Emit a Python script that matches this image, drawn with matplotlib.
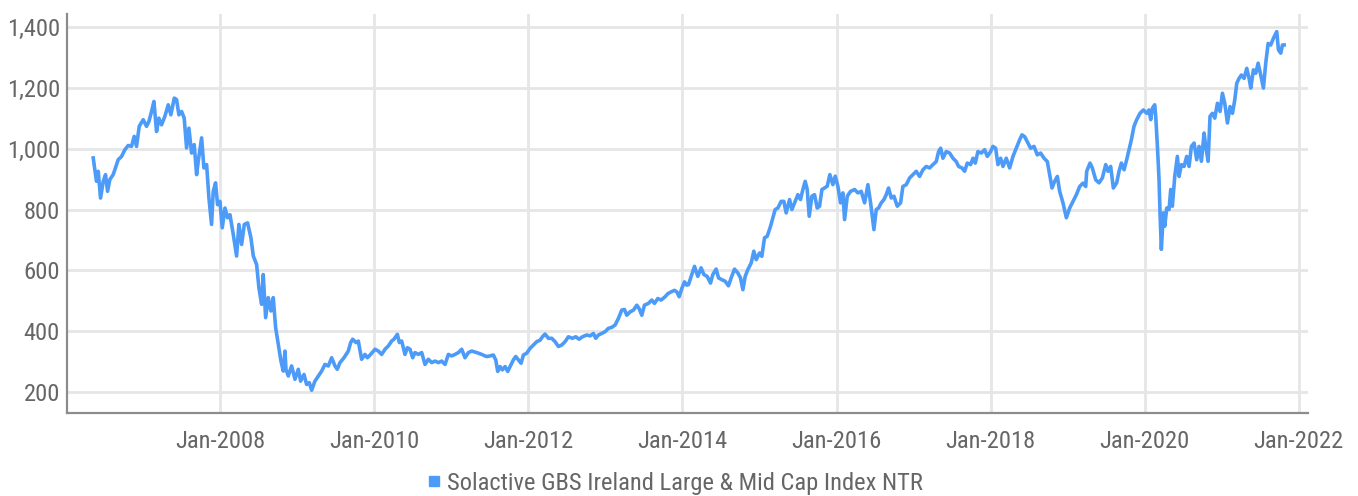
import matplotlib
matplotlib.use("Agg")
import matplotlib.pyplot as plt
from matplotlib.lines import Line2D
from matplotlib import font_manager

# Solactive GBS Ireland Large & Mid Cap Index NTR, sampled as decimal years
years = [
    2006.351, 2006.372, 2006.394, 2006.416, 2006.446, 2006.481, 2006.511, 2006.537, 2006.567, 2006.610,
    2006.654, 2006.675, 2006.719, 2006.762, 2006.805, 2006.848, 2006.883, 2006.913, 2006.948, 2007.000,
    2007.043, 2007.074, 2007.108, 2007.139, 2007.173, 2007.203, 2007.238, 2007.281, 2007.325, 2007.359,
    2007.403, 2007.433, 2007.463, 2007.498, 2007.532, 2007.563, 2007.593, 2007.628, 2007.662, 2007.693,
    2007.714, 2007.758, 2007.788, 2007.823, 2007.853, 2007.887, 2007.909, 2007.939, 2007.965, 2007.996,
    2008.026, 2008.061, 2008.095, 2008.126, 2008.169, 2008.212, 2008.242, 2008.277, 2008.312, 2008.355,
    2008.398, 2008.429, 2008.472, 2008.502, 2008.537, 2008.558, 2008.589, 2008.623, 2008.658, 2008.688,
    2008.719, 2008.753, 2008.788, 2008.818, 2008.840,
    2008.853, 2008.883, 2008.926, 2008.970, 2009.013, 2009.043, 2009.087, 2009.121, 2009.156, 2009.186,
    2009.229, 2009.273, 2009.316, 2009.359, 2009.403, 2009.446, 2009.489, 2009.519, 2009.554, 2009.606,
    2009.662, 2009.693, 2009.719, 2009.762, 2009.792, 2009.835, 2009.879, 2009.909, 2009.952, 2010.009,
    2010.052, 2010.095, 2010.139, 2010.182, 2010.225, 2010.255, 2010.299, 2010.325, 2010.355, 2010.398,
    2010.429, 2010.463, 2010.498, 2010.528, 2010.571, 2010.615, 2010.658, 2010.701, 2010.745, 2010.788,
    2010.831, 2010.874, 2010.918, 2010.961, 2011.004, 2011.048, 2011.091, 2011.134, 2011.177, 2011.221,
    2011.264, 2011.329, 2011.394, 2011.437,
    2011.459, 2011.502, 2011.545, 2011.576, 2011.602, 2011.632, 2011.662, 2011.697, 2011.732, 2011.762,
    2011.805, 2011.835, 2011.870, 2011.905, 2011.935, 2011.978, 2012.022, 2012.065, 2012.108, 2012.152,
    2012.182, 2012.216, 2012.260, 2012.303, 2012.346, 2012.390, 2012.433, 2012.476, 2012.519, 2012.571,
    2012.615, 2012.658, 2012.701, 2012.758, 2012.801, 2012.844, 2012.874, 2012.909, 2012.952, 2012.996,
    2013.039, 2013.082, 2013.126, 2013.169, 2013.212, 2013.247, 2013.277, 2013.320, 2013.364, 2013.407,
    2013.437, 2013.472, 2013.506, 2013.558, 2013.602, 2013.636, 2013.680, 2013.723, 2013.775, 2013.810,
    2013.853, 2013.896, 2013.926, 2013.957, 2013.991, 2014.026, 2014.056,
    2014.078, 2014.113, 2014.156, 2014.199, 2014.242, 2014.277, 2014.320, 2014.364, 2014.394, 2014.437,
    2014.468, 2014.511, 2014.554, 2014.597, 2014.632, 2014.675, 2014.719, 2014.753, 2014.784, 2014.814,
    2014.848, 2014.892, 2014.926, 2014.957, 2015.000, 2015.030, 2015.065, 2015.100, 2015.143, 2015.173,
    2015.203, 2015.238, 2015.281, 2015.316, 2015.346, 2015.390, 2015.420, 2015.455, 2015.498, 2015.532,
    2015.563, 2015.593, 2015.619, 2015.645, 2015.680, 2015.714, 2015.749, 2015.779, 2015.810, 2015.844,
    2015.879, 2015.913, 2015.952, 2015.983, 2016.017, 2016.052, 2016.082, 2016.104, 2016.139, 2016.182,
    2016.234, 2016.277, 2016.320, 2016.364, 2016.407, 2016.442, 2016.485, 2016.515, 2016.545, 2016.580,
    2016.615, 2016.645,
    2016.675, 2016.710, 2016.745, 2016.788, 2016.831, 2016.861, 2016.905, 2016.948, 2016.991, 2017.035,
    2017.078, 2017.121, 2017.165, 2017.208, 2017.251, 2017.294, 2017.325, 2017.351, 2017.381, 2017.424,
    2017.468, 2017.511, 2017.554, 2017.584, 2017.628, 2017.662, 2017.697, 2017.740, 2017.771, 2017.801,
    2017.835, 2017.879, 2017.922, 2017.957, 2018.000, 2018.030, 2018.065, 2018.095, 2018.130, 2018.160,
    2018.203, 2018.247, 2018.290, 2018.333, 2018.377, 2018.407, 2018.442, 2018.485, 2018.519, 2018.563,
    2018.606, 2018.649, 2018.693, 2018.736, 2018.766, 2018.797, 2018.831, 2018.866, 2018.896, 2018.939,
    2018.983, 2019.026, 2019.069, 2019.113, 2019.156, 2019.199, 2019.234,
    2019.247, 2019.290, 2019.320, 2019.364, 2019.407, 2019.450, 2019.494, 2019.524, 2019.558, 2019.593,
    2019.636, 2019.667, 2019.697, 2019.732, 2019.766, 2019.797, 2019.827, 2019.861, 2019.896, 2019.939,
    2019.983, 2020.026, 2020.056, 2020.078, 2020.100, 2020.130, 2020.143, 2020.165, 2020.186, 2020.199,
    2020.216, 2020.242, 2020.260, 2020.286, 2020.316, 2020.338, 2020.359, 2020.390, 2020.424, 2020.446,
    2020.476, 2020.511, 2020.545, 2020.576, 2020.606, 2020.641, 2020.675, 2020.706, 2020.736, 2020.771,
    2020.792, 2020.823, 2020.848, 2020.879, 2020.909, 2020.944, 2020.978, 2021.009, 2021.039, 2021.074,
    2021.108, 2021.139, 2021.169, 2021.195, 2021.225, 2021.255, 2021.290, 2021.325, 2021.355, 2021.377,
    2021.411, 2021.442, 2021.472, 2021.506, 2021.541, 2021.571, 2021.602, 2021.636, 2021.671, 2021.714,
    2021.736, 2021.766, 2021.788, 2021.810,
]
values = [
    970, 931, 893, 926, 838, 893, 915, 860, 899, 915,
    948, 964, 975, 997, 1011, 1008, 1041, 1008, 1074, 1096,
    1074, 1090, 1123, 1156, 1057, 1101, 1079, 1107, 1145, 1112,
    1167, 1162, 1112, 1123, 1101, 1003, 1068, 986, 1014, 915,
    959, 1036, 937, 948, 838, 751, 860, 888, 816, 827,
    740, 805, 773, 783, 718, 647, 751, 685, 751, 756,
    707, 647, 619, 542, 488, 586, 444, 510, 466, 510,
    411, 356, 301, 268, 334,
    274, 252, 285, 241, 274, 235, 257, 224, 230, 205,
    235, 252, 268, 290, 285, 312, 285, 274, 296, 312,
    334, 362, 373, 362, 367, 307, 323, 312, 323, 340,
    334, 323, 340, 351, 367, 373, 389, 362, 367, 323,
    345, 340, 312, 329, 323, 329, 290, 307, 296, 301,
    296, 301, 290, 323, 318, 323, 329, 340, 312, 329,
    334, 329, 323, 318,
    316, 318, 321, 305, 267, 283, 272, 283, 267, 283,
    305, 316, 305, 294, 321, 327, 343, 354, 365, 370,
    381, 390, 376, 376, 365, 349, 354, 365, 381, 376,
    381, 373, 381, 387, 384, 392, 376, 387, 392, 398,
    409, 412, 420, 442, 469, 471, 452, 463, 469, 485,
    474, 452, 485, 491, 502, 491, 507, 502, 513, 523,
    529, 534, 529, 513, 540, 562, 551,
    553, 580, 613, 580, 608, 586, 580, 558, 586, 604,
    575, 569, 564, 549, 575, 604, 591, 575, 536, 580,
    602, 624, 663, 635, 657, 646, 707, 712, 745, 773,
    800, 805, 827, 827, 789, 833, 800, 822, 849, 833,
    866, 893, 866, 778, 844, 849, 805, 811, 866, 871,
    877, 915, 882, 910, 877, 822, 855, 767, 844, 860,
    866, 855, 860, 822, 882, 822, 734, 800, 805, 822,
    833, 849,
    871, 838, 844, 811, 822, 876, 882, 904, 915, 926,
    909, 931, 942, 937, 948, 958, 991, 1002, 969, 991,
    986, 969, 958, 942, 937, 926, 953, 948, 969, 953,
    991, 986, 997, 975, 991, 1008, 1002, 948, 969, 942,
    969, 937, 975, 1002, 1030, 1046, 1040, 1019, 1002, 1008,
    980, 986, 969, 958, 915, 871, 893, 909, 860, 822,
    773, 805, 827, 849, 876, 887, 876,
    926, 953, 937, 898, 888, 904, 948, 926, 942, 871,
    888, 926, 953, 931, 964, 997, 1030, 1074, 1096, 1117,
    1128, 1117, 1128, 1096, 1134, 1145, 1107, 1008, 899, 789,
    669, 789, 745, 805, 800, 866, 811, 909, 975, 909,
    948, 942, 975, 942, 1008, 1019, 964, 1008, 959, 1052,
    1008, 959, 1107, 1117, 1101, 1150, 1123, 1183, 1150, 1085,
    1139, 1117, 1161, 1216, 1232, 1243, 1232, 1265, 1232, 1200,
    1260, 1249, 1282, 1243, 1200, 1282, 1347, 1342, 1364, 1386,
    1326, 1315, 1342, 1342,
]

tick_years = [2008, 2010, 2012, 2014, 2016, 2018, 2020, 2022]
tick_labels = ["Jan-%d" % y for y in tick_years]
y_ticks = [200, 400, 600, 800, 1000, 1200, 1400]
series_name = "Solactive GBS Ireland Large & Mid Cap Index NTR"

# pick a narrow sans face if one is installed, otherwise a light one
fonts = font_manager.fontManager.ttflist
names = {f.name for f in fonts}
family, stretch, weight = "DejaVu Sans", "normal", "normal"
for cand in ("Liberation Sans Narrow", "Roboto Condensed", "Open Sans Condensed", "DejaVu Sans Condensed"):
    if cand in names:
        family = cand
        break
else:
    if any(f.name == "DejaVu Sans" and f.stretch == "condensed" for f in fonts):
        stretch = "condensed"
    elif "Roboto" in names:
        family = "Roboto"
        if any(f.name == "Roboto" and f.weight == 300 for f in fonts):
            weight = 300
plt.rcParams["font.family"] = [family, "DejaVu Sans"]
plt.rcParams["font.stretch"] = stretch
plt.rcParams["font.weight"] = weight

line_color = "#4d9bf8"
text_color = "#666666"
grid_color = "#e6e6e6"
axis_color = "#8c8c8c"

fig = plt.figure(figsize=(13.58, 4.96), dpi=100)

# scale the label size so "Jan-2008" is about 90 px wide
probe = fig.text(0, 0, "Jan-2008", fontsize=18)
fig.canvas.draw()
w = probe.get_window_extent().width
probe.remove()
fs = min(18.0, 18.0 * 90.0 / w)

ax = fig.add_axes([0.0493, 0.1673, 0.9139, 0.8045])

ax.plot(years, values, color=line_color, linewidth=2.6, solid_joinstyle="round", zorder=3)

ax.set_xlim(2006.01, 2022.12)
ax.set_ylim(130, 1444)
ax.set_xticks(tick_years)
ax.set_xticklabels(tick_labels)
ax.set_yticks(y_ticks)
ax.set_yticklabels(["{:,}".format(v) for v in y_ticks])

ax.grid(True, color=grid_color, linewidth=2.0, zorder=0)
ax.set_axisbelow(True)
for side in ("top", "right"):
    ax.spines[side].set_visible(False)
for side in ("left", "bottom"):
    ax.spines[side].set_color(axis_color)
    ax.spines[side].set_linewidth(1.6)

ax.tick_params(axis="both", length=0, labelsize=fs, labelcolor=text_color)
ax.tick_params(axis="x", pad=12)
ax.tick_params(axis="y", pad=5)

handle = Line2D([], [], color=line_color, marker="s", linestyle="none", markersize=7.5)
fig.legend([handle], [series_name], loc="center", bbox_to_anchor=(0.497, 0.026),
           frameon=False, fontsize=fs, labelcolor=text_color,
           handlelength=0.6, handletextpad=0.25, borderaxespad=0)

fig.savefig("out.png", dpi=100)
